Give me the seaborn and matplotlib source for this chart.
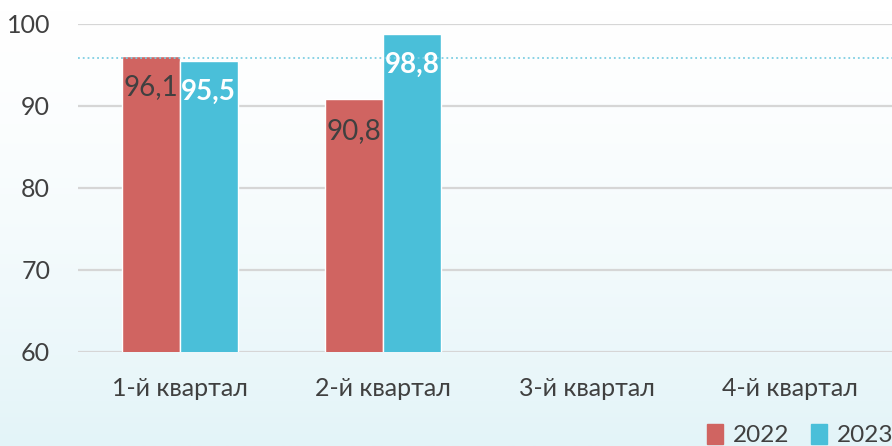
import numpy as np
import pandas as pd
import seaborn as sns
import matplotlib
matplotlib.use('Agg')
import matplotlib.pyplot as plt
from matplotlib.patches import Patch
from matplotlib.colors import LinearSegmentedColormap

quarters = ['1-й квартал', '2-й квартал', '3-й квартал', '4-й квартал']
values_2022 = [96.1, 90.8, np.nan, np.nan]
values_2023 = [95.5, 98.8, np.nan, np.nan]
years = ['2022', '2023']
ref_level = 95.8
colors = ['#D06461', '#4ABFD9']

df = pd.DataFrame({
    'quarter': quarters * 2,
    'year': ['2022'] * 4 + ['2023'] * 4,
    'value': values_2022 + values_2023,
})

sns.set_style('white')
plt.rcParams['font.family'] = ['Lato', 'DejaVu Sans']

fig = plt.figure(figsize=(8.92, 4.46), dpi=100)

# faint bluish backdrop, stronger towards the bottom
bg = fig.add_axes([0, 0, 1, 1], zorder=-10)
grad = np.linspace(0, 1, 256).reshape(-1, 1) ** 1.5
bg.imshow(grad, aspect='auto', extent=[0, 1, 0, 1], origin='upper',
          cmap=LinearSegmentedColormap.from_list('bg', ['#FFFFFF', '#E3F4F8']))
bg.axis('off')

ax = fig.add_axes([78 / 892, 1 - 352 / 446, 1 - 78 / 892, (352 - 24) / 446])
ax.patch.set_alpha(0)

sns.barplot(data=df, x='quarter', y='value', hue='year', order=quarters,
            hue_order=years, palette=colors, width=0.57, saturation=1,
            ax=ax, legend=False)

ax.set_ylim(60, 100)
ax.set_yticks([60, 70, 80, 90, 100])
ax.yaxis.grid(True, color='#D6D6D6', linewidth=1.6)
ax.set_axisbelow(True)
ax.axhline(ref_level, color='#7FCFE3', linestyle=':', linewidth=1.3, zorder=1)
sns.despine(ax=ax, left=True, bottom=True, top=True, right=True)
ax.set_xlabel('')
ax.set_ylabel('')
ax.tick_params(axis='y', labelsize=18, labelcolor='#404040', pad=20, length=0)
ax.tick_params(axis='x', labelsize=18, labelcolor='#404040', pad=18, length=0)

# value labels inside bar tops
label_style = {'2022': dict(color='#404040', fontweight='normal'),
               '2023': dict(color='white', fontweight='bold')}
for cont, yr in zip(ax.containers, years):
    labels = [('' if np.isnan(v) else f'{v:.1f}'.replace('.', ','))
              for v in cont.datavalues]
    ax.bar_label(cont, labels=labels, label_type='edge', padding=-32,
                 fontsize=20, **label_style[yr])

handles = [Patch(color=c, label=y) for c, y in zip(colors, years)]
fig.legend(handles=handles, loc='lower right', bbox_to_anchor=(1.026, -0.05),
           ncol=2, frameon=False, fontsize=17.5, handlelength=0.65,
           handleheight=0.9, handletextpad=0.4, columnspacing=0.9,
           labelcolor='#404040')

fig.savefig('out.png', dpi=100)
